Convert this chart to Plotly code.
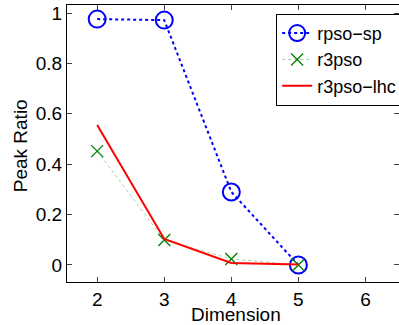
import plotly.graph_objects as go

dims = [2, 3, 4, 5]
rpso_sp = [0.976, 0.972, 0.29, 0.0]
r3pso = [0.452, 0.099, 0.024, 0.0]
r3pso_lhc = [0.556, 0.103, 0.008, 0.002]
x_ticks = [2, 3, 4, 5, 6]
y_ticks = [0, 0.2, 0.4, 0.6, 0.8, 1]
y_tick_labels = ["0", "0.2", "0.4", "0.6", "0.8", "1"]

fig = go.Figure()
fig.add_trace(go.Scatter(x=dims, y=rpso_sp, name="rpso\u2212sp", mode="lines+markers",
                         line=dict(color="#0000ff", width=2, dash="dot"),
                         marker=dict(symbol="circle-open", size=17, color="#0000ff", line=dict(width=2))))
fig.add_trace(go.Scatter(x=dims, y=r3pso, name="r3pso", mode="lines+markers",
                         line=dict(color="#9fd49f", width=1, dash="dot"),
                         marker=dict(symbol="x-thin-open", size=12, color="#008000", line=dict(width=1.3, color="#008000"))))
fig.add_trace(go.Scatter(x=dims, y=r3pso_lhc, name="r3pso\u2212lhc", mode="lines",
                         line=dict(color="#ff0000", width=2)))

fam = "Liberation Sans, Arial, sans-serif"
font = dict(family=fam, size=19, color="black")
fig.update_layout(
    width=399, height=325,
    margin=dict(l=67, r=0, t=5, b=43, autoexpand=False),
    paper_bgcolor="white", plot_bgcolor="white",
    font=font,
    showlegend=True,
    legend=dict(x=0.63, y=0.968, xanchor="left", yanchor="top",
                bordercolor="black", borderwidth=1, bgcolor="white",
                font=dict(family=fam, size=18, color="black"),
                itemwidth=30, tracegroupgap=0),
    xaxis=dict(range=[1.55, 6.5], tickvals=x_ticks, ticks="inside", ticklen=5,
               showline=True, linecolor="black", linewidth=1, mirror="ticks",
               showgrid=False, zeroline=False, automargin=False,
               ticklabeloverflow="allow"),
    yaxis=dict(range=[-0.0675, 1.032], tickvals=y_ticks, ticktext=y_tick_labels,
               ticks="inside", ticklen=5,
               showline=True, linecolor="black", linewidth=1, mirror="ticks",
               showgrid=False, zeroline=False, automargin=False,
               ticklabeloverflow="allow"),
    annotations=[
        dict(text="Dimension", xref="paper", yref="paper", x=0.51, y=0.0, yshift=-32,
             xanchor="center", yanchor="middle", showarrow=False, font=font),
        dict(text="Peak Ratio", xref="paper", yref="paper", x=0, xshift=-47, y=0.49,
             xanchor="center", yanchor="middle", textangle=-90, showarrow=False, font=font),
    ],
)
fig.write_html("out.html", config={"displayModeBar": False},
               post_script="document.body.style.margin='0';document.body.style.padding='0';")
